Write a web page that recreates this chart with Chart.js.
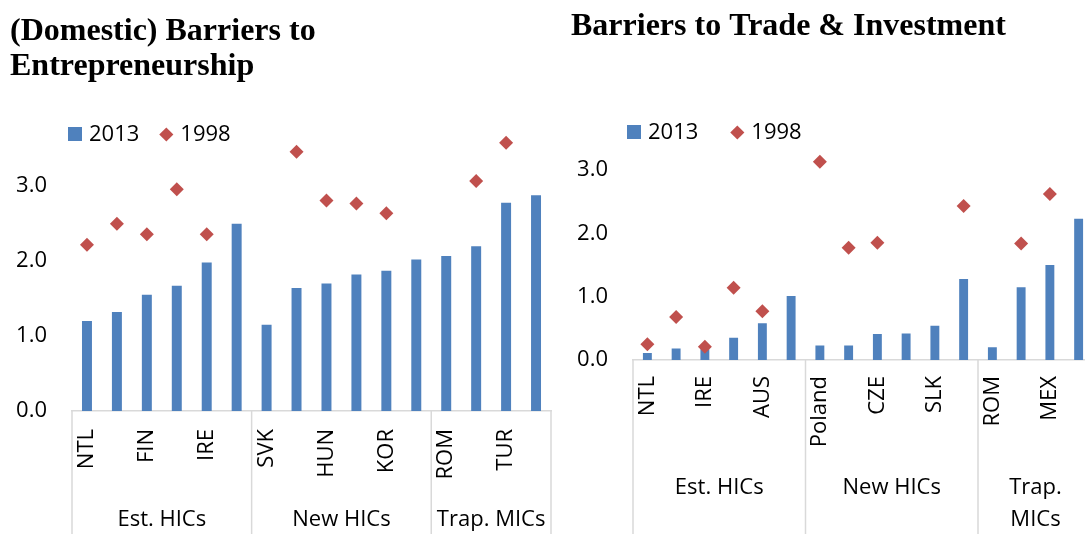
<!DOCTYPE html>
<html><head><meta charset="utf-8">
<script src="https://cdn.jsdelivr.net/npm/chart.js@4.4.1/dist/chart.umd.min.js"></script>
<style>
html,body{margin:0;padding:0;background:#fff;overflow:hidden;width:1085px;height:534px;position:relative}
#c1{position:absolute;left:0;top:0}
#c2{position:absolute;left:560px;top:0}
</style></head><body>
<canvas id="c1" width="560" height="534"></canvas>
<canvas id="c2" width="540" height="534"></canvas>
<script>
// ---- data ----
const seriesNames = ['2013', '1998'];
const yTickValues = [0, 1, 2, 3];

const entTitle = ['(Domestic) Barriers to', 'Entrepreneurship'];
const entCategories = ['NTL', '', 'FIN', '', 'IRE', '', 'SVK', '', 'HUN', '', 'KOR', '', 'ROM', '', 'TUR', ''];
const entGroups = ['Est. HICs', 'New HICs', 'Trap. MICs'];
const entGroupSizes = [6, 6, 4];
const ent2013 = [1.20, 1.32, 1.55, 1.67, 1.98, 2.50, 1.15, 1.64, 1.70, 1.82, 1.87, 2.02, 2.07, 2.20, 2.78, 2.88];
const ent1998 = [2.22, 2.50, 2.36, 2.96, 2.36, null, null, 3.46, 2.81, 2.77, 2.64, null, null, 3.07, 3.58, null];

const tradeTitle = 'Barriers to Trade & Investment';
const tradeCategories = ['NTL', '', 'IRE', '', 'AUS', '', 'Poland', '', 'CZE', '', 'SLK', '', 'ROM', '', 'MEX', ''];
const tradeGroups = ['Est. HICs', 'New HICs', ['Trap.', 'MICs']];
const tradeGroupSizes = [6, 6, 4];
const trade2013 = [0.11, 0.18, 0.17, 0.35, 0.58, 1.01, 0.23, 0.23, 0.41, 0.42, 0.54, 1.28, 0.20, 1.15, 1.50, 2.23];
const trade1998 = [0.25, 0.68, 0.21, 1.14, 0.77, null, 3.13, 1.77, 1.85, null, null, 2.43, null, 1.84, 2.62, null];

// ---- styles ----
const BLUE = '#4F81BD';
const RED = '#C0504D';
const AXIS_GRAY = '#d9d9d9';
const SANS = "'Open Sans', 'Liberation Sans', sans-serif";
Chart.defaults.font.family = SANS;
Chart.defaults.color = '#000';

const squareIcon = document.createElement('canvas');
squareIcon.width = 14; squareIcon.height = 14;
(function(){ const c = squareIcon.getContext('2d'); c.fillStyle = BLUE; c.fillRect(0, 0, 14, 14); })();

const groupAxisPlugin = {
  id: 'groupAxis',
  afterDraw(chart, args, opts) {
    const {ctx, chartArea} = chart;
    const x = chart.scales.x;
    const bounds = [x.getPixelForValue(-0.5)];
    let idx = 0;
    opts.sizes.forEach(n => { idx += n; bounds.push(x.getPixelForValue(idx - 0.5)); });
    ctx.save();
    ctx.strokeStyle = AXIS_GRAY;
    ctx.lineWidth = 1.5;
    bounds.forEach(bx => {
      ctx.beginPath();
      ctx.moveTo(bx, chartArea.bottom);
      ctx.lineTo(bx, chart.height);
      ctx.stroke();
    });
    ctx.fillStyle = '#000';
    ctx.font = '22px ' + SANS;
    ctx.textAlign = 'center';
    ctx.textBaseline = 'middle';
    opts.names.forEach((name, i) => {
      const cx = (bounds[i] + bounds[i + 1]) / 2;
      const lines = Array.isArray(name) ? name : [name];
      lines.forEach((ln, j) => ctx.fillText(ln, cx, chartArea.bottom + opts.offset + j * opts.lineGap));
    });
    ctx.restore();
  }
};

// legend placed relative to the plot area, and markers above the axis max still drawn
const layoutTweaksPlugin = {
  id: 'layoutTweaks',
  beforeDraw(chart, args, opts) {
    const lg = chart.legend;
    if (!lg) return;
    const pad = lg.options.labels.padding;
    const w = lg.right - lg.left;
    lg.left = chart.chartArea.left + opts.dx - pad;
    lg.right = lg.left + w;
  },
  beforeDatasetsDraw(chart) {
    chart._savedTop = chart.chartArea.top;
    chart.chartArea.top = 0;
  },
  afterDatasetsDraw(chart) {
    chart.chartArea.top = chart._savedTop;
  }
};

function makeChart(canvas, cfg) {
  return new Chart(canvas, {
    type: 'bar',
    data: {
      labels: cfg.labels,
      datasets: [
        { label: seriesNames[0], data: cfg.bars, backgroundColor: BLUE, borderWidth: 0,
          barPercentage: cfg.barPct, categoryPercentage: 1, order: 2 },
        { type: 'line', label: seriesNames[1], data: cfg.points, showLine: false,
          backgroundColor: RED, borderColor: RED, borderWidth: 0,
          pointStyle: 'rectRot', pointRadius: 7, pointHoverRadius: 7, pointBorderWidth: 0,
          pointBackgroundColor: RED, order: 1, clip: false }
      ]
    },
    options: {
      responsive: false, animation: false, devicePixelRatio: 1,
      events: [],
      layout: { padding: { left: cfg.padL, right: cfg.padR, top: 0, bottom: 0 } },
      plugins: {
        title: {
          display: true, text: cfg.title, align: 'start', color: '#000',
          font: { family: "'Liberation Serif', 'Times New Roman', serif", size: 32, weight: 'bold', lineHeight: 1.09 },
          padding: cfg.titlePad
        },
        legend: {
          display: true, position: 'top', align: 'start',
          labels: {
            color: '#000', font: { size: 22 }, usePointStyle: true, boxWidth: 6, boxHeight: 10,
            padding: cfg.legendPad,
            sort: (a, b) => a.datasetIndex - b.datasetIndex,
            generateLabels(chart) {
              const items = Chart.defaults.plugins.legend.labels.generateLabels(chart);
              items.forEach(it => {
                it.pointStyle = it.datasetIndex === 0 ? squareIcon : 'rectRot';
                it.lineWidth = 0;
                it.fillStyle = it.datasetIndex === 0 ? BLUE : RED;
              });
              return items;
            }
          }
        },
        tooltip: { enabled: false },
        layoutTweaks: { dx: cfg.legendDx },
        groupAxis: { names: cfg.groups, sizes: cfg.groupSizes, offset: cfg.groupOffset, lineGap: 32 }
      },
      scales: {
        x: {
          grid: { display: false, drawTicks: false },
          border: { display: true, color: AXIS_GRAY, width: 1.5 },
          ticks: { autoSkip: false, maxRotation: 90, minRotation: 90, padding: cfg.tickPad, color: '#000', font: { size: 22 } },
          afterFit: s => { s.height = cfg.xHeight; s.paddingLeft = 0; s.paddingRight = 0; }
        },
        y: {
          min: 0, max: cfg.yMax,
          grid: { display: false, drawTicks: false },
          border: { display: false },
          ticks: { padding: 25, color: '#000', font: { size: 22 }, callback: v => Number(v).toFixed(1) },
          afterBuildTicks: s => { s.ticks = yTickValues.map(v => ({ value: v })); },
          afterFit: s => { s.width = 62; }
        }
      }
    },
    plugins: [groupAxisPlugin, layoutTweaksPlugin]
  });
}

makeChart(document.getElementById('c1'), {
  labels: entCategories, bars: ent2013, points: ent1998, title: entTitle,
  groups: entGroups, groupSizes: entGroupSizes,
  padL: 10, padR: 9, titlePad: { top: 14.55, bottom: 15.15 }, legendPad: 24, legendDx: 0,
  xHeight: 123, tickPad: 18, yMax: 3.41, barPct: 0.333, groupOffset: 109
});

makeChart(document.getElementById('c2'), {
  labels: tradeCategories, bars: trade2013, points: trade1998, title: tradeTitle,
  groups: tradeGroups, groupSizes: tradeGroupSizes,
  padL: 11, padR: 3, titlePad: { top: 9.55, bottom: 41.05 }, legendPad: 36, legendDx: -2,
  xHeight: 174, tickPad: 16, yMax: 3.26, barPct: 0.31, groupOffset: 128
});
</script>
</body></html>
